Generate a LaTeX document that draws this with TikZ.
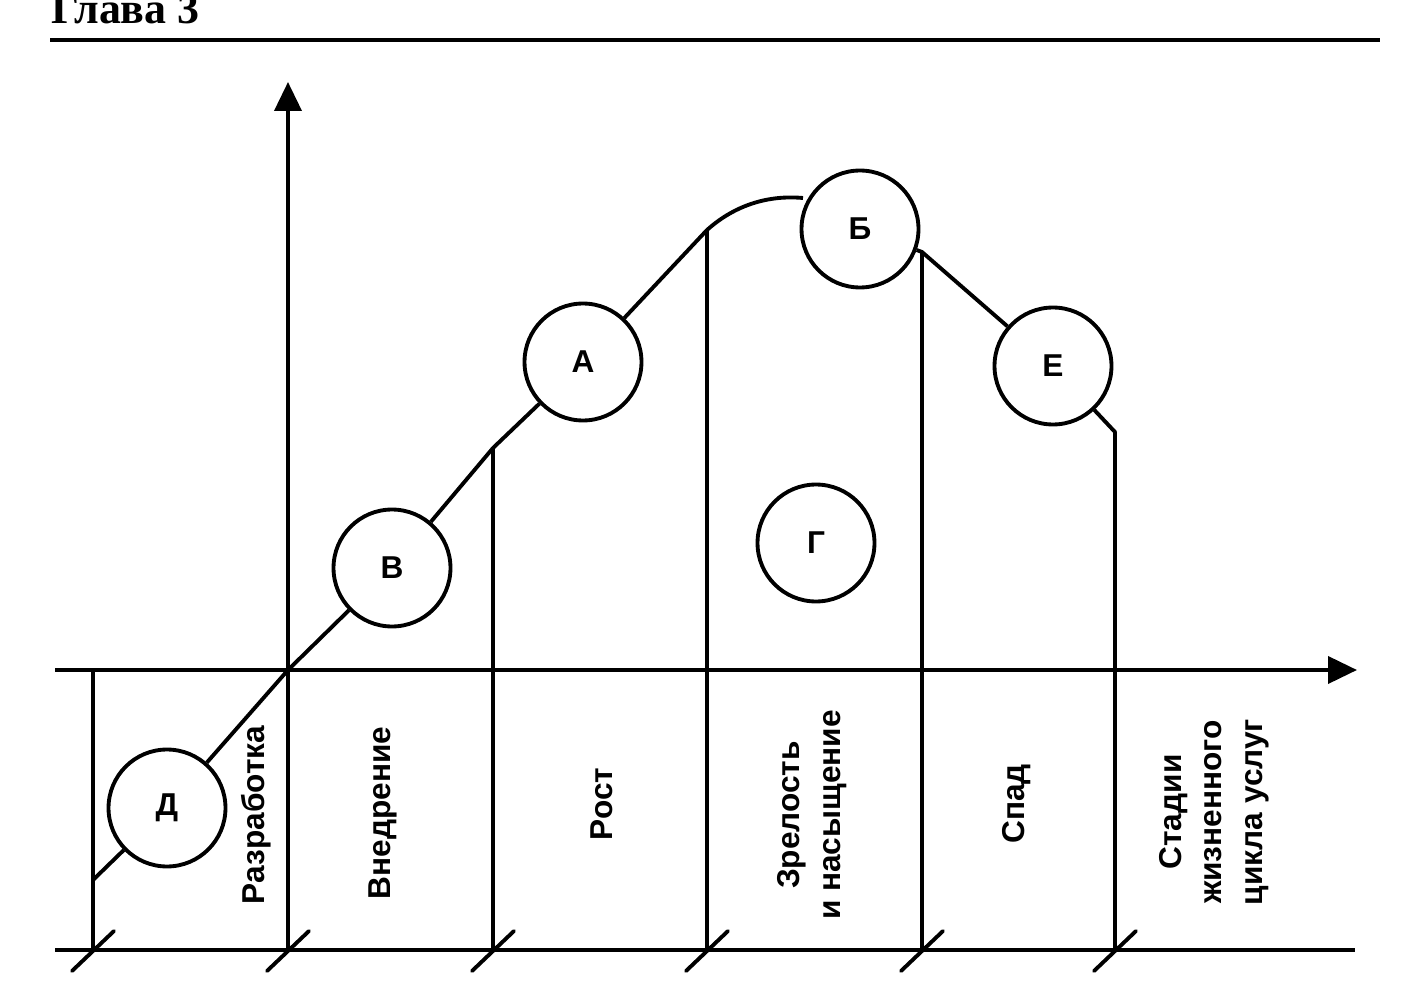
\documentclass[tikz,border=0pt]{standalone}
\usepackage{fontspec}
\setmainfont{Liberation Sans}
\newfontfamily\headfont{Liberation Serif}
\usetikzlibrary{arrows.meta}

\begin{document}
\begin{tikzpicture}[
    x=0.02cm, y=-0.02cm,
    every node/.style = {font=\fontsize{18}{23}\selectfont\bfseries},
    stage/.style = {
        circle, draw, fill=white,
        line width=2.2pt, minimum size=2.34cm, inner sep=0pt
    },
    phase/.style = {rotate=90, align=center, inner sep=0pt},
    rule/.style = {line width=2.2pt},
    axis/.style = {line width=2.2pt, -{Triangle[length=0.58cm, width=0.54cm]}},
    curve/.style = {line width=2.2pt, line join=round},
    tick/.style = {line width=2.2pt, line cap=round},
]
\useasboundingbox (0,0) rectangle (1424,1000);

% Header
\node[anchor=base west, inner sep=0pt, font=\headfont\fontsize{25}{25}\selectfont\bfseries]
    (title) at (51,24) {Глава 3};
\draw[rule] (50,40) -- (1380,40);

% Points of the curve and frame
\coordinate (d0)     at (93,880);
\coordinate (o)      at (288,670);
\coordinate (p1)     at (493,448);
\coordinate (p2)     at (707,230);
\coordinate (pk)     at (803,198);
\coordinate (p3)     at (922,252);
\coordinate (p4)     at (1115,432);
\coordinate (xstart) at (55,670);
\coordinate (xtip)   at (1357,670);
\coordinate (ytip)   at (288,82);
\coordinate (base)   at (55,950);
\coordinate (baseR)  at (1355,950);

% Axes and base line
\draw[axis] (o |- base) -- (ytip);
\draw[axis] (xstart) -- (xtip);
\draw[rule] (base) -- (baseR);

% Stage borders
\draw[rule] (d0 |- o) -- (d0 |- base);
\foreach \p in {p1, p2, p3}
    \draw[rule] (\p) -- (\p |- base);

% Ticks
\foreach \x in {93, 288, 493, 707, 922, 1115}
    \draw[tick] (\x-21,971) -- (\x+21,931);

% Circles
\node[stage] (D) at (167,808)  {Д};
\node[stage] (V) at (392,568)  {В};
\node[stage] (A) at (583,362)  {А};
\node[stage] (B) at (860,229)  {Б};
\node[stage] (E) at (1053,366) {Е};
\node[stage] (G) at (816,543)  {Г};

% Life cycle curve
\draw[curve] (d0) -- (D) -- (o) -- (V) -- (p1) -- (A) -- (p2)
    .. controls (736,204) and (770,195) .. (pk)
    (B) -- (p3) -- (E) -- (p4) -- (p4 |- base);

% Stage names
\node[phase] (dev)    at (256,815)  {Разработка};
\node[phase] (intro)  at (383,813)  {Внедрение};
\node[phase] (growth) at (602,804)  {Рост};
\node[phase] (mature) at (812,815)  {Зрелость\\и насыщение};
\node[phase] (fall)   at (1017,804) {Спад};
\node[phase] (cycle)  at (1214,812) {Стадии\\жизненного\\цикла услуг};

\end{tikzpicture}
\end{document}
